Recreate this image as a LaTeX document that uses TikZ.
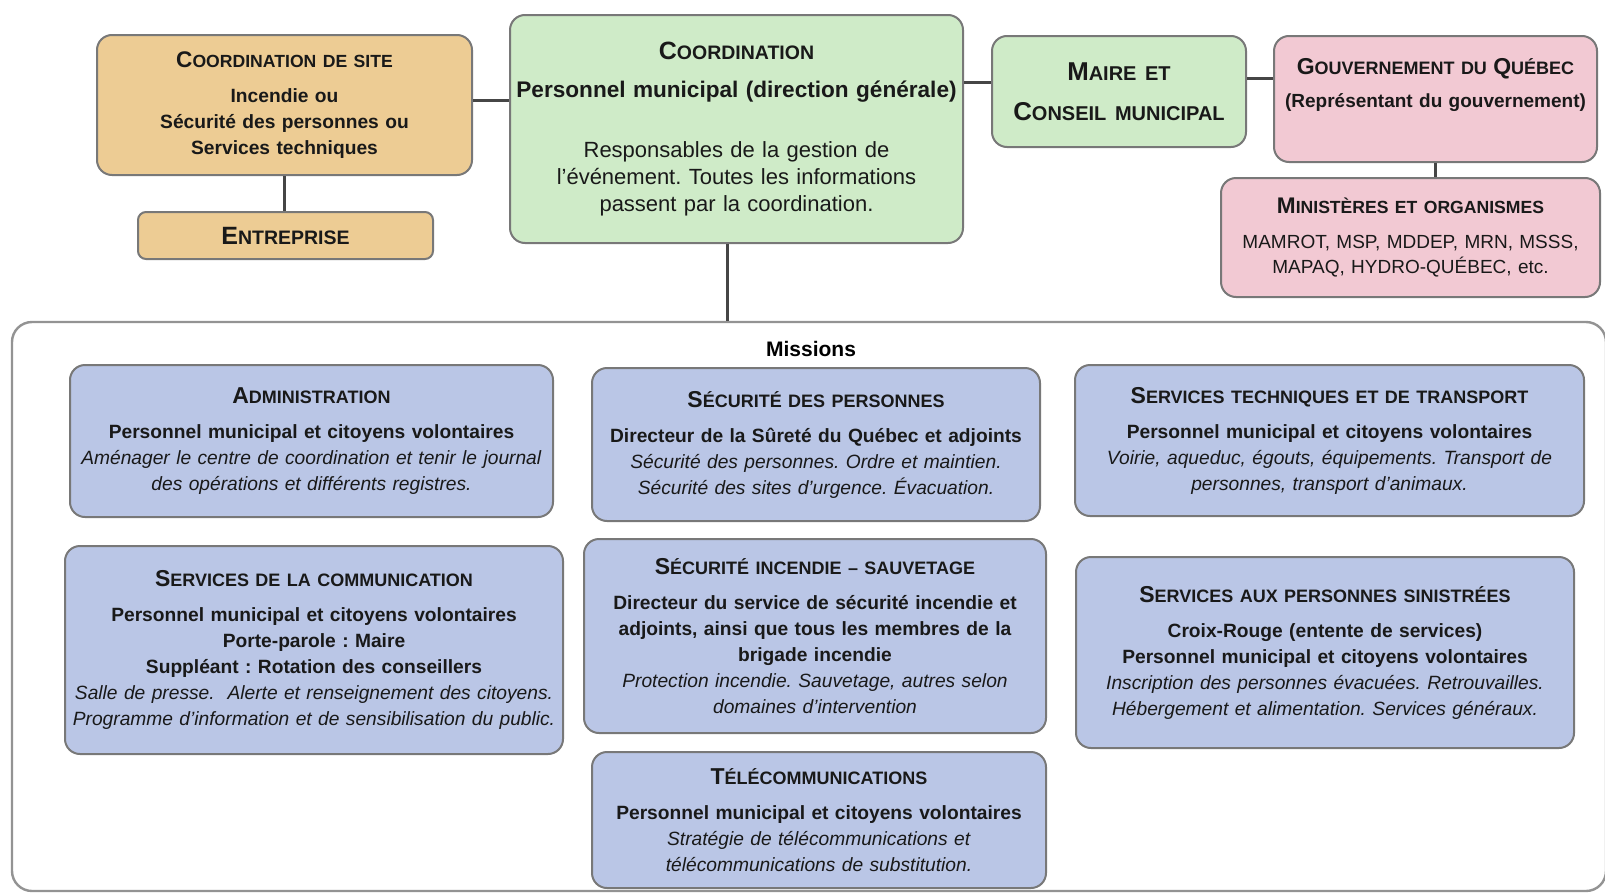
\documentclass[tikz,border=0pt]{standalone}
\usepackage{fontspec}
\setmainfont{Liberation Sans}
\usepackage{tikz}
\frenchspacing

\definecolor{sitefill}{RGB}{237,204,148}
\definecolor{coordfill}{RGB}{207,235,200}
\definecolor{gouvfill}{RGB}{242,201,211}
\definecolor{missionfill}{RGB}{186,198,230}
\definecolor{edgegray}{RGB}{120,120,120}
\definecolor{linkgray}{RGB}{70,70,70}

% fake small caps: size of first letter, size of the rest
\newcommand{\capsc}[4]{{\fontsize{#1}{#1}\selectfont\bfseries #3}{\fontsize{#2}{#2}\selectfont\bfseries #4}}

\tikzset{
  box/.style={draw=edgegray, line width=1pt, rounded corners=7.5pt, align=center,
    inner xsep=2pt, inner ysep=0pt, text=black!90, font=\fontsize{9.6}{13}\selectfont},
  site/.style={box, fill=sitefill},
  coordbox/.style={box, fill=coordfill},
  gouvbox/.style={box, fill=gouvfill},
  mission/.style={box, fill=missionfill},
  link/.style={draw=linkgray, line width=1.5pt}
}

\begin{document}
\begin{tikzpicture}[x=0.5pt, y=-0.5pt]
    \useasboundingbox (0,0) rectangle (1605,894);
    % Missions frame
    \node[draw=edgegray!80, line width=1.2pt, rounded corners=10pt, minimum width=797pt, minimum height=284.5pt] (frame) at (809,606.5) {};
    \node[font=\fontsize{10.5}{12}\selectfont\bfseries] (mlabel) at (811,349) {Missions};
    % Top row
    \node[site, text width=183.5pt, minimum height=70pt, font=\fontsize{9.6}{13}\selectfont\bfseries] (site) at (284.5,105)
      {\capsc{11.3}{8.8}{C}{OORDINATION DE SITE}\\[4.5pt]
       Incendie ou\\ Sécurité des personnes ou\\ Services techniques};
    \node[site, text width=143.5pt, minimum height=23.5pt, rounded corners=4pt] (entre) at (285.5,235.5)
      {\capsc{12.5}{9.75}{E}{NTREPRISE}};
    \node[coordbox, text width=222.5pt, minimum height=114pt, font=\fontsize{11}{13.5}\selectfont] (coord) at (736.5,129)
      {\capsc{12.5}{9.75}{C}{OORDINATION}\\[5.5pt]
       {\fontsize{11.3}{13.5}\selectfont\bfseries Personnel municipal (direction générale)}\\[16.5pt]
       Responsables de la gestion de\\ l'événement. Toutes les informations\\ passent par la coordination.};
    \node[coordbox, text width=123pt, minimum height=55.5pt, font=\fontsize{12.9}{13.5}\selectfont] (maire) at (1119,91.5)
      {\capsc{12.9}{10}{M}{AIRE ET}\\[6.5pt]\capsc{12.9}{10}{C}{ONSEIL MUNICIPAL}};
    \node[gouvbox, text width=157.5pt, minimum height=63pt, font=\fontsize{9.5}{12.5}\selectfont] (gouv) at (1435.5,99)
      {\capsc{11.5}{9}{G}{OUVERNEMENT DU }\capsc{11.5}{9}{Q}{UÉBEC}\\[4pt]
       \textbf{(Représentant du gouvernement)}\\[3.5pt]\mbox{}};
    \node[gouvbox, text width=185.5pt, minimum height=59.5pt, font=\fontsize{9.5}{12.5}\selectfont] (min) at (1410.5,237.5)
      {\capsc{11.3}{8.8}{M}{INISTÈRES ET ORGANISMES}\\[5pt]
       MAMROT, MSP, MDDEP, MRN, MSSS,\\ MAPAQ, HYDRO-QUÉBEC, etc.};
    % Missions
    \node[mission, text width=237.5pt, minimum height=76pt] (admin) at (311.5,441)
      {\capsc{11.5}{9}{A}{DMINISTRATION}\\[4.5pt]
       \textbf{Personnel municipal et citoyens volontaires}\\
       \textit{Aménager le centre de coordination et tenir le journal}\\
       \textit{des opérations et différents registres.}};
    \node[mission, text width=220pt, minimum height=76.5pt] (secpers) at (816,444.5)
      {\capsc{11.5}{9}{S}{ÉCURITÉ DES PERSONNES}\\[4.5pt]
       \textbf{Directeur de la Sûreté du Québec et adjoints}\\
       \textit{Sécurité des personnes. Ordre et maintien.}\\
       \textit{Sécurité des sites d'urgence. Évacuation.}};
    \node[mission, text width=250.5pt, minimum height=75.5pt] (servtech) at (1329.5,440.5)
      {\capsc{11.5}{9}{S}{ERVICES TECHNIQUES ET DE TRANSPORT}\\[4.5pt]
       \textbf{Personnel municipal et citoyens volontaires}\\
       \textit{Voirie, aqueduc, égouts, équipements. Transport de}\\
       \textit{personnes, transport d'animaux.}};
    \node[mission, text width=245pt, minimum height=104pt] (comm) at (314,650)
      {\capsc{11.5}{9}{S}{ERVICES DE LA COMMUNICATION}\\[4.5pt]
       \textbf{Personnel municipal et citoyens volontaires}\\
       \textbf{Porte-parole : Maire}\\
       \textbf{Suppléant : Rotation des conseillers}\\
       \textit{Salle de presse.\ \ Alerte et renseignement des citoyens.}\\
       \textit{Programme d'information et de sensibilisation du public.}};
    \node[mission, text width=227pt, minimum height=97pt] (incendie) at (815,636)
      {\capsc{11.5}{9}{S}{ÉCURITÉ INCENDIE – SAUVETAGE}\\[4.5pt]
       \textbf{Directeur du service de sécurité incendie et}\\
       \textbf{adjoints, ainsi que tous les membres de la}\\
       \textbf{brigade incendie}\\
       \textit{Protection incendie. Sauvetage, autres selon}\\
       \textit{domaines d'intervention}};
    \node[mission, text width=245pt, minimum height=95.5pt] (sinistres) at (1325,652.5)
      {\capsc{11.5}{9}{S}{ERVICES AUX PERSONNES SINISTRÉES}\\[4.5pt]
       \textbf{Croix-Rouge (entente de services)}\\
       \textbf{Personnel municipal et citoyens volontaires}\\
       \textit{Inscription des personnes évacuées. Retrouvailles.}\\
       \textit{Hébergement et alimentation. Services généraux.}};
    \node[mission, text width=223pt, minimum height=68pt] (telecom) at (819,820)
      {\capsc{11.5}{9}{T}{ÉLÉCOMMUNICATIONS}\\[4.5pt]
       \textbf{Personnel municipal et citoyens volontaires}\\
       \textit{Stratégie de télécommunications et}\\
       \textit{télécommunications de substitution.}};
    % Links
    \coordinate (siteout) at ([yshift=2.5pt]site.east);
    \draw[link] (siteout) -- (siteout -| coord.west);
    \coordinate (mairein) at ([yshift=4.75pt]maire.west);
    \draw[link] (mairein) -- (mairein -| coord.east);
    \coordinate (maireout) at ([yshift=6.75pt]maire.east);
    \draw[link] (maireout) -- (maireout -| gouv.west);
    \draw[link] (site.south) -- (site.south |- entre.north);
    \draw[link] (gouv.south) -- (gouv.south |- min.north);
    \coordinate (coordout) at ([xshift=-4.75pt]coord.south);
    \draw[link] (coordout) -- (coordout |- frame.north);
\end{tikzpicture}
\end{document}
